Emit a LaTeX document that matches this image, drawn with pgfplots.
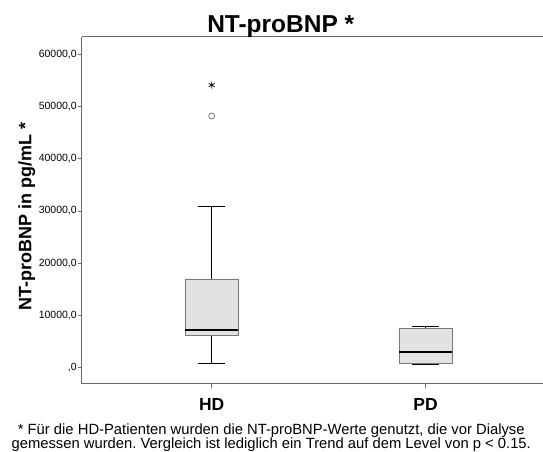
\documentclass[border=0pt]{standalone}
\usepackage{fontspec}
\setmainfont{Liberation Sans}
\usepackage{pgfplots}
\pgfplotsset{compat=1.18}
\definecolor{boxfill}{RGB}{226,226,226}
\definecolor{boxedge}{RGB}{120,120,120}
\definecolor{axisgray}{RGB}{105,105,105}
\frenchspacing

\begin{document}
\begin{tikzpicture}
\begin{axis}[
  at={(82pt,-384pt)}, anchor=south west,
  width=461pt, height=347pt, scale only axis,
  xmin=0.393, xmax=2.547,
  ymin=-3063, ymax=63316,
  axis x line*=bottom, axis y line*=left,
  axis line style={axisgray, line width=1pt},
  xtick={1,2}, xticklabels={HD,PD},
  ytick={0,10000,20000,30000,40000,50000,60000},
  yticklabels={{,0},{10000,0},{20000,0},{30000,0},{40000,0},{50000,0},{60000,0}},
  tick align=outside, major tick length=4pt,
  tick style={axisgray, line width=0.8pt},
  xticklabel style={font=\fontsize{17.5}{17.5}\selectfont\bfseries, yshift=-7pt},
  yticklabel style={font=\fontsize{10.5}{12}\selectfont, inner xsep=1pt},
  scaled y ticks=false,
  clip=false,
]
% HD: whiskers (min 900, max 30830)
\addplot[black, line width=0.9pt] coordinates {(1,900) (1,6070)};
\addplot[black, line width=0.9pt] coordinates {(1,16790) (1,30830)};
\addplot[black, line width=0.9pt] coordinates {(0.9375,900) (1.0625,900)};
\addplot[black, line width=0.9pt] coordinates {(0.9375,30830) (1.0625,30830)};
% HD: box Q1 6070, Q3 16790, median 7220
\addplot[draw=boxedge, fill=boxfill, line width=1pt] coordinates {(0.876,6070) (1.124,6070) (1.124,16790) (0.876,16790)} -- cycle;
\addplot[black, line width=1.6pt] coordinates {(0.876,7220) (1.124,7220)};
% HD: outlier and extreme value
\addplot[only marks, mark=o, mark size=3pt, mark options={draw=boxedge, line width=0.8pt}] coordinates {(1,48190)};
\addplot[only marks, mark=asterisk, mark size=3.5pt, black, line width=0.7pt] coordinates {(1,54100)};
% PD: whiskers (min 580, max 7980)
\addplot[black, line width=0.9pt] coordinates {(2,580) (2,840)};
\addplot[black, line width=0.9pt] coordinates {(2,7540) (2,7980)};
\addplot[black, line width=0.9pt] coordinates {(1.9375,580) (2.0625,580)};
\addplot[black, line width=0.9pt] coordinates {(1.9375,7980) (2.0625,7980)};
% PD: box Q1 840, Q3 7540, median 2950
\addplot[draw=boxedge, fill=boxfill, line width=1pt] coordinates {(1.876,840) (2.124,840) (2.124,7540) (1.876,7540)} -- cycle;
\addplot[black, line width=1.6pt] coordinates {(1.876,2950) (2.124,2950)};
\draw[axisgray, line width=1pt] (rel axis cs:0,1) -- (rel axis cs:1,1);
\end{axis}
\node[font=\fontsize{24.5}{24.5}\selectfont\bfseries, anchor=base] at (281pt,-33pt) {NT-proBNP *};
\node[font=\fontsize{18}{18}\selectfont\bfseries, anchor=base, rotate=90] at (31.5pt,-216.5pt) {NT-proBNP in pg/mL *};
\node[font=\fontsize{14.8}{14.8}\selectfont, anchor=base, inner sep=0pt] at (271.5pt,-435pt) {* Für die HD-Patienten wurden die NT-proBNP-Werte genutzt, die vor Dialyse};
\node[font=\fontsize{14.8}{14.8}\selectfont, anchor=base, inner sep=0pt] at (271.5pt,-449pt) {gemessen wurden. Vergleich ist lediglich ein Trend auf dem Level von p < 0.15.};
\useasboundingbox (0pt,0pt) rectangle (543pt,-452pt);
\end{tikzpicture}
\end{document}
